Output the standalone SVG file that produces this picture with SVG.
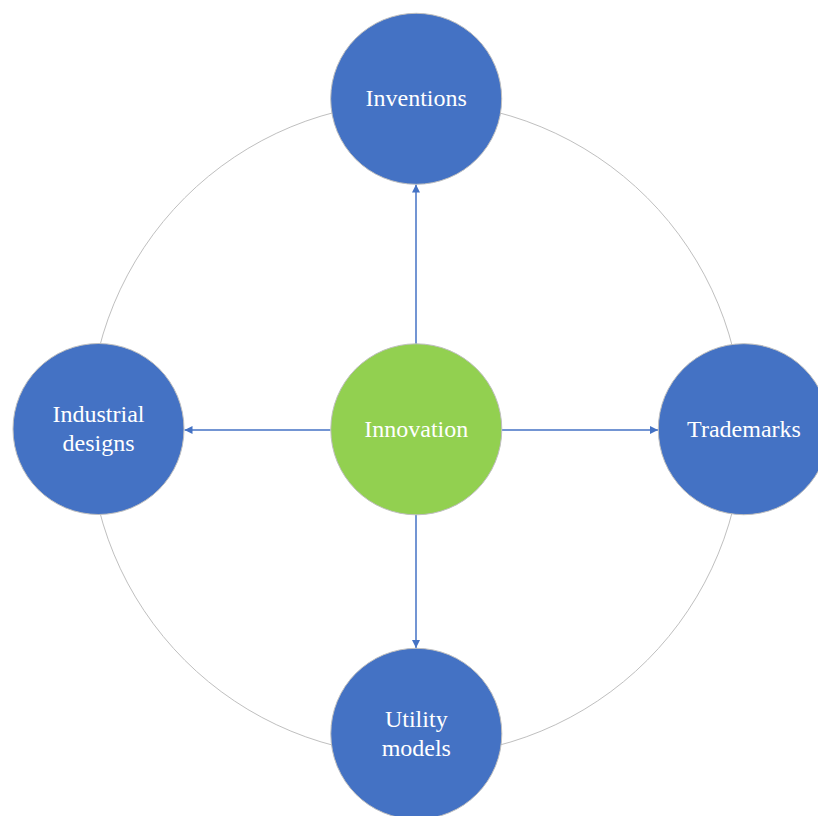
<svg xmlns="http://www.w3.org/2000/svg" width="818" height="816" viewBox="0 0 818 816">
<style>
.node{stroke:#bfbfbf;stroke-width:1}
.blue{fill:#4472C4}
.green{fill:#92D050}
.lbl{font-family:"Liberation Serif","Times New Roman",serif;font-size:24px;fill:#ffffff;text-anchor:middle}
.conn{stroke:#4472C4;stroke-width:1.5;fill:none;marker-end:url(#ah)}
</style>
<defs>
<marker id="ah" viewBox="0 0 10 10" refX="10" refY="5" markerWidth="10" markerHeight="8" markerUnits="userSpaceOnUse" orient="auto">
<path d="M0,0 L10,5 L0,10 z" fill="#4472C4"/>
</marker>
</defs>
<rect width="818" height="816" fill="#ffffff"/>
<circle cx="416" cy="429" r="327" fill="none" stroke="#bfbfbf" stroke-width="1"/>
<g id="connectors">
<line class="conn" x1="416" y1="344" x2="416" y2="184.5"/>
<line class="conn" x1="330.5" y1="430" x2="184.5" y2="430"/>
<line class="conn" x1="502" y1="430" x2="658" y2="430"/>
<line class="conn" x1="416" y1="514.5" x2="416" y2="648"/>
</g>
<g id="innovation">
<circle class="node green" cx="416.3" cy="429.3" r="85.5"/>
<text class="lbl" x="416.3" y="437.3">Innovation</text>
</g>
<g id="inventions">
<circle class="node blue" cx="416.2" cy="98.8" r="85.5"/>
<text class="lbl" x="416.2" y="106.3">Inventions</text>
</g>
<g id="industrial-designs">
<circle class="node blue" cx="98.5" cy="429" r="85.5"/>
<text class="lbl" x="98.5" y="421.7">Industrial</text>
<text class="lbl" x="98.5" y="451">designs</text>
</g>
<g id="trademarks">
<circle class="node blue" cx="743.8" cy="429.2" r="85.5"/>
<text class="lbl" x="744" y="436.8">Trademarks</text>
</g>
<g id="utility-models">
<circle class="node blue" cx="416.3" cy="733.8" r="85.5"/>
<text class="lbl" x="416.3" y="727.3">Utility</text>
<text class="lbl" x="416.3" y="756">models</text>
</g>
</svg>
